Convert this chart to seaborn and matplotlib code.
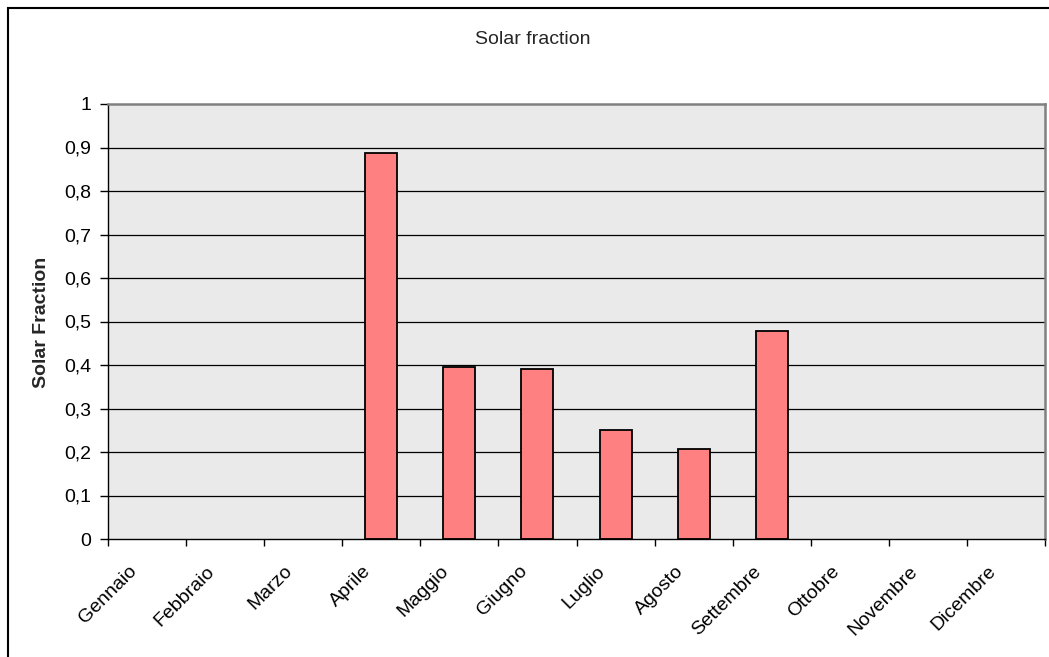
import matplotlib
matplotlib.use("Agg")
import matplotlib.pyplot as plt
from matplotlib.patches import Rectangle
from matplotlib.transforms import ScaledTranslation
import seaborn as sns
import pandas as pd
import numpy as np

months = ["Gennaio", "Febbraio", "Marzo", "Aprile", "Maggio", "Giugno",
          "Luglio", "Agosto", "Settembre", "Ottobre", "Novembre", "Dicembre"]
solar_fraction = [0, 0, 0, 0.888, 0.395, 0.391, 0.250, 0.206, 0.478, 0, 0, 0]
y_ticks = [0, 0.1, 0.2, 0.3, 0.4, 0.5, 0.6, 0.7, 0.8, 0.9, 1.0]
y_tick_labels = ["0", "0,1", "0,2", "0,3", "0,4", "0,5", "0,6", "0,7", "0,8", "0,9", "1"]

sns.set_theme(style="white")
plt.rcParams["font.family"] = ["Liberation Sans", "DejaVu Sans"]

FS = 14
W, H = 1049, 657
fig = plt.figure(figsize=(W / 100, H / 100), dpi=100)
fig.patch.set_facecolor("white")
ax = fig.add_axes([108 / W, (H - 539) / H, 937 / W, 435 / H])

df = pd.DataFrame({"month": months, "value": solar_fraction})
sns.barplot(data=df, x="month", y="value", order=months, ax=ax,
            color="#FF8080", saturation=1, width=0.41, edgecolor="black",
            linewidth=1.3, zorder=3)
for p in ax.patches:
    if p.get_height() == 0:
        p.set_linewidth(0)

ax.set_facecolor("#EAEAEA")
ax.set_xlim(-0.5, len(months) - 0.5)
ax.set_ylim(0, 1)

ax.set_yticks(y_ticks)
ax.set_yticklabels(y_tick_labels, fontsize=FS)
for v in y_ticks[1:-1]:
    ax.axhline(v, color="black", lw=0.9, zorder=1)

ax.tick_params(axis="y", which="major", direction="out", length=6, width=1,
               color="black", pad=6, left=True, labelcolor="black")

ax.set_xticks(np.arange(len(months)))
ax.set_xticklabels(months, fontsize=FS, rotation=45, ha="right", va="top")
ax.set_xticks(np.arange(-0.5, len(months)), minor=True)
ax.tick_params(axis="x", which="major", length=0, pad=17, labelcolor="black")
ax.tick_params(axis="x", which="minor", direction="out", length=5, width=1,
               color="black", bottom=True)
shift = ScaledTranslation(-0.07, 0, fig.dpi_scale_trans)
for lab in ax.get_xticklabels():
    lab.set_transform(lab.get_transform() + shift)

ax.set_xlabel("")
ax.set_ylabel("")

for side in ["left", "bottom"]:
    ax.spines[side].set_color("black")
    ax.spines[side].set_linewidth(1.0)
for side in ["top", "right"]:
    ax.spines[side].set_color("#808080")
    ax.spines[side].set_linewidth(1.8)
for s in ax.spines.values():
    s.set_visible(True)
    s.set_zorder(4)

fig.text(42 / W, 1 - 322 / H, "Solar Fraction", rotation=90, ha="center",
         va="center", fontsize=FS, fontweight="bold")
fig.text(533 / W, 1 - 44 / H, "Solar fraction", ha="center", va="baseline",
         fontsize=FS)

# outer chart-area frame (cut off at right and bottom)
fig.add_artist(Rectangle((8 / W, -0.1), 1.5, (H - 8) / H + 0.1,
                         transform=fig.transFigure, fill=False,
                         edgecolor="black", lw=1.5))

fig.savefig("out.png", dpi=100)
